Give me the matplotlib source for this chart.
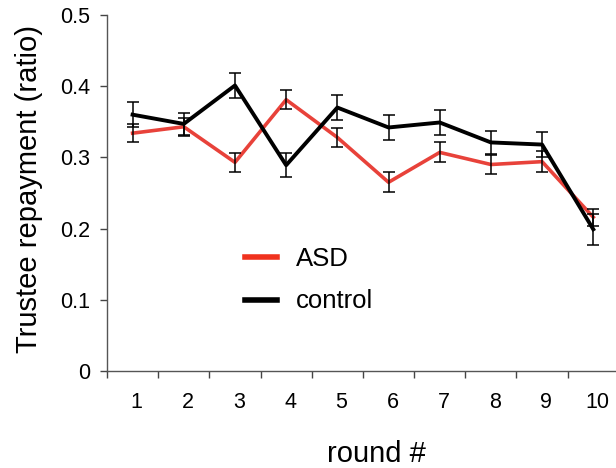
import matplotlib
matplotlib.use("Agg")
import matplotlib.pyplot as plt
import matplotlib.transforms as mtransforms
import numpy as np

plt.rcParams['font.family'] = ['Liberation Sans', 'DejaVu Sans']

# data
rounds = [1, 2, 3, 4, 5, 6, 7, 8, 9, 10]
asd = [0.334, 0.343, 0.293, 0.381, 0.328, 0.265, 0.307, 0.290, 0.294, 0.216]
asd_err = [0.013, 0.013, 0.013, 0.013, 0.013, 0.014, 0.014, 0.014, 0.015, 0.012]
control = [0.360, 0.347, 0.401, 0.289, 0.370, 0.342, 0.349, 0.321, 0.318, 0.199]
control_err = [0.018, 0.016, 0.017, 0.017, 0.018, 0.017, 0.017, 0.016, 0.017, 0.022]

red = '#e8423a'

fig = plt.figure(figsize=(6.16, 4.68), dpi=100)
ax = fig.add_axes([0.1737, 0.2073, 0.8243, 0.7607])

# lines
l1, = ax.plot(rounds, asd, color=red, lw=2.6, label='ASD', zorder=2)
l2, = ax.plot(rounds, control, color='black', lw=2.8, label='control', zorder=3)

# error bars (all drawn black)
ax.errorbar(rounds, asd, yerr=asd_err, fmt='none', ecolor='black',
            elinewidth=1.1, capsize=4.5, capthick=1.1, zorder=4)
ax.errorbar(rounds, control, yerr=control_err, fmt='none', ecolor='black',
            elinewidth=1.1, capsize=4.5, capthick=1.1, zorder=4)

ax.set_ylim(0, 0.5)
ax.set_xlim(0.5, 10.42)
ax.set_yticks([0, 0.1, 0.2, 0.3, 0.4, 0.5])
ax.set_yticklabels(['0', '0.1', '0.2', '0.3', '0.4', '0.5'])

# tick marks at category boundaries, labels at centres
ax.set_xticks(np.arange(0.5, 10, 1.0))
ax.set_xticklabels([])
ax.set_xticks(rounds, minor=True)
ax.set_xticklabels([str(r) for r in rounds], minor=True)
ax.tick_params(axis='x', which='minor', length=0, pad=15, labelsize=15.5)
ax.tick_params(axis='x', which='major', length=5, width=1, color='#444444')
ax.tick_params(axis='y', length=5, width=1, color='#444444', pad=7, labelsize=15.5)

# labels sit a few pixels right of the points in the original
shift = mtransforms.ScaledTranslation(4 / 100, 0, fig.dpi_scale_trans)
for lab in ax.get_xticklabels(minor=True):
    lab.set_transform(lab.get_transform() + shift)

for s in ['top', 'right']:
    ax.spines[s].set_visible(False)
for s in ['left', 'bottom']:
    ax.spines[s].set_color('#555555')
    ax.spines[s].set_linewidth(1)

ax.set_ylabel('Trustee repayment (ratio)', fontsize=21)
ax.yaxis.set_label_coords(-0.126, 0.51)
ax.set_xlabel('round #', fontsize=21)
ax.xaxis.set_label_coords(0.531, -0.195)

leg = ax.legend(handles=[l1, l2], loc='upper left', bbox_to_anchor=(245 / 616, 1 - 247 / 468),
                bbox_transform=fig.transFigure, frameon=False, fontsize=18.5,
                handlelength=1.25, handletextpad=0.74, labelspacing=0.72,
                borderpad=0, borderaxespad=0)
leg.get_lines()[0].set_color('#f0321e')
for ln in leg.get_lines():
    ln.set_linewidth(4)

fig.savefig('out.png', dpi=100)
